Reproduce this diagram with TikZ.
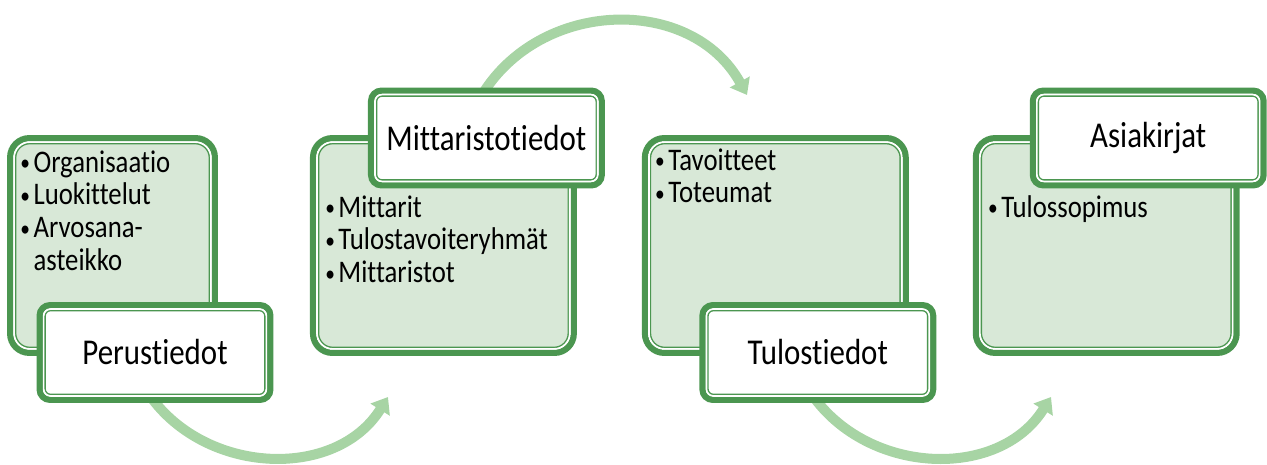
\documentclass[tikz,border=0pt]{standalone}
\usepackage{fontspec}
\setmainfont[FakeStretch=0.85, Ligatures={NoCommon}]{Carlito}
\usetikzlibrary{positioning,calc,arrows.meta,backgrounds}

\definecolor{rimgreen}{RGB}{75,150,80}
\definecolor{panelgreen}{RGB}{216,232,215}
\definecolor{flowgreen}{RGB}{167,212,164}

\newcommand{\bul}{\makebox[7.5pt][l]{\raisebox{0.9pt}{\fontsize{13}{13}\selectfont\textbullet}}}

\begin{document}
\begin{tikzpicture}[x=0.02cm, y=0.02cm]

        \def\gap{1.3cm}

        % Double rim: a thin green line just inside the thick outer stroke
        \tikzset{
            rim/.style={path picture={
                \draw[rimgreen, line width=0.8pt, double=white,
                      double distance=1.1pt, rounded corners=#1]
                ([shift={(2.25pt,2.25pt)}]path picture bounding box.south west)
                rectangle
                ([shift={(-2.25pt,-2.25pt)}]path picture bounding box.north east);}},
            panel/.style={draw=rimgreen, line width=3.4pt, fill=panelgreen,
                rounded corners=11pt, rim=9pt, minimum width=5.22cm,
                minimum height=4.3cm},
            tag/.style={draw=rimgreen, line width=3.4pt, fill=white,
                rounded corners=6pt, rim=4pt, minimum width=4.62cm,
                minimum height=1.9cm, font=\fontsize{20.7}{24}\selectfont},
            items/.style={anchor=base west, inner sep=0pt, text width=5cm,
                align=left, font=\fontsize{17.9}{18.7}\selectfont},
            flow/.style={flowgreen, line width=5.7pt,
                -{Triangle[width=12.5pt, length=8.5pt]}}
        }

        \useasboundingbox (0,0) rectangle (1267,464);

        % Step 1
        \node (list1) [panel, minimum width=4.1cm] at (112.5,218.5) {};
        \node (items1) [items] at ([shift={(13,-37)}]list1.north west)
        {\bul Organisaatio\\ \bul Luokittelut\\ \bul Arvosana-\\
         \hspace*{7.5pt}asteikko};
        \node (lab1) [tag] at ($(list1.center)+(42.5,-107)$) {Perustiedot};

        % Step 2
        \node (list2) [panel, right=1.84cm of list1] {};
        \node (items2) [items] at ([shift={(15,-82)}]list2.north west)
        {\bul Mittarit\\ \bul Tulostavoiteryhmät\\ \bul Mittaristot};
        \node (lab2) [tag] at ($(list2.center)+(43,107.5)$) {Mittaristotiedot};

        % Step 3
        \node (list3) [panel, right=\gap of list2] {};
        \node (items3) [items] at ([shift={(13,-35)}]list3.north west)
        {\bul Tavoitteet\\ \bul Toteumat};
        \node (lab3) [tag] at ($(list3.center)+(42.5,-107)$) {Tulostiedot};

        % Step 4
        \node (list4) [panel, right=1.28cm of list3] {};
        \node (items4) [items] at ([shift={(15,-82)}]list4.north west)
        {\bul Tulossopimus};
        \node (lab4) [tag] at ($(list4.center)+(42,107.5)$) {Asiakirjat};

        \begin{scope}[on background layer]
            \coordinate (tip1) at (388,67);
            \coordinate (tip2) at (747,369);
            \coordinate (tip3) at (1051,67);

            \draw[flow] ([shift={(-5.7,8.2)}]lab1.south)
                to[out=-55, in=238, looseness=1.05] (tip1);
            \draw[flow] ([shift={(-5.2,-8.6)}]lab2.north)
                to[out=59, in=119, looseness=1.1] (tip2);
            \draw[flow] ([shift={(-5.7,8.2)}]lab3.south)
                to[out=-55, in=238, looseness=1.05] (tip3);
        \end{scope}

\end{tikzpicture}
\end{document}
